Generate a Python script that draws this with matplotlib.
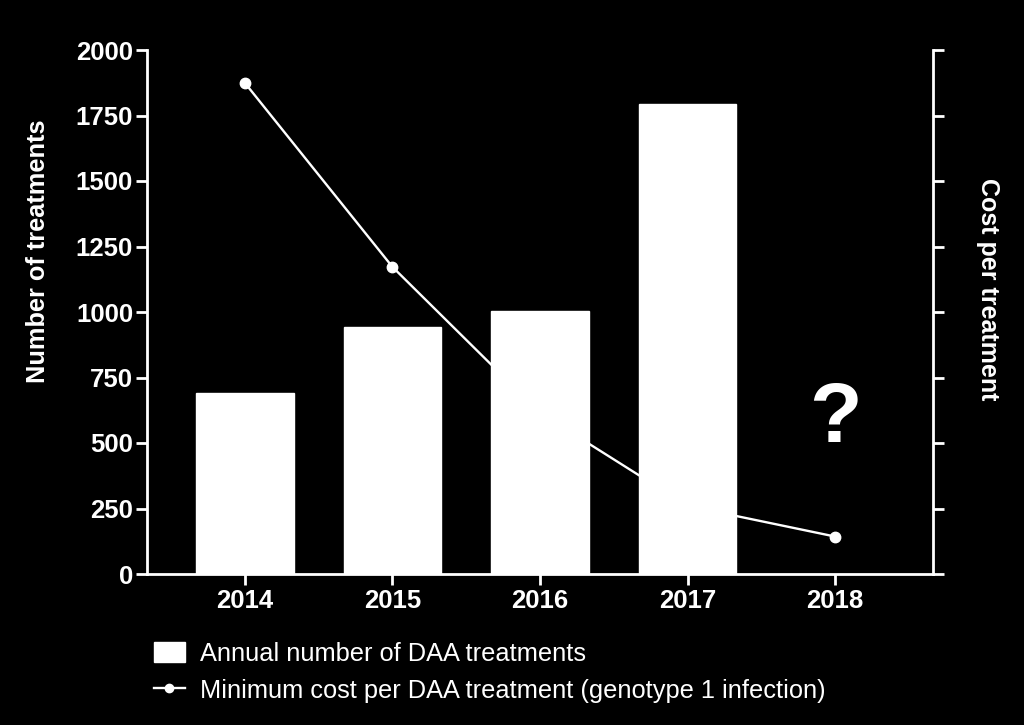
import matplotlib
matplotlib.use("Agg")
import matplotlib.pyplot as plt
import numpy as np

# values
years = ['2014', '2015', '2016', '2017', '2018']
treatments = [692, 943, 1004, 1794, np.nan]          # annual number of DAA treatments
cost = [1874, 1172, 615, 260, 143]                   # min. cost per treatment (right axis, unlabelled)
yticks = [0, 250, 500, 750, 1000, 1250, 1500, 1750, 2000]

plt.rcParams['font.family'] = ['Liberation Sans', 'DejaVu Sans']

fig = plt.figure(figsize=(10.24, 7.25), dpi=100, facecolor='black')
ax = fig.add_axes([147 / 1024, 1 - 574 / 725, (933 - 147) / 1024, (574 - 50) / 725])
ax2 = ax.twinx()

x = np.arange(len(years))

# bars on the left axis, drawn on top of the cost line
ax.bar(x, treatments, width=0.66, color='white', edgecolor='white', zorder=3)
ax2.plot(x, cost, color='white', lw=1.7, marker='o', ms=7.5, zorder=2)

ax.set_zorder(ax2.get_zorder() + 1)
ax.patch.set_visible(False)
ax2.set_facecolor('black')

for a in (ax, ax2):
    a.set_ylim(0, 2000)
    a.set_yticks(yticks)
    a.set_xlim(-0.664, 4.664)
    for s in a.spines.values():
        s.set_color('white')
        s.set_linewidth(2)
    a.spines['top'].set_visible(False)
    a.tick_params(colors='white', width=2, length=8)

ax.spines['right'].set_visible(False)
ax2.spines['left'].set_visible(False)
ax2.spines['bottom'].set_visible(False)
ax2.set_yticklabels([])

ax.set_xticks(x)
ax.set_xticklabels(years, fontsize=18.5, fontweight='bold', color='white')
ax.set_yticklabels([str(t) for t in yticks], fontsize=18.5, fontweight='bold', color='white')
ax.tick_params(axis='x', pad=3)
ax.tick_params(axis='y', pad=2)

ax.set_ylabel('Number of treatments', fontsize=18.3, fontweight='bold', color='white')
ax.yaxis.set_label_coords(-0.139, 0.616)
ax.yaxis.label.set_va('center')
ax2.set_ylabel('Cost per treatment', fontsize=18, fontweight='bold', color='white', rotation=-90)
ax2.yaxis.set_label_coords(1.070, 0.544)
ax2.yaxis.label.set_va('center')

ax.text(4, 503, '?', fontsize=62, fontweight='bold', color='white', ha='center', va='baseline')

h_bar = plt.Rectangle((0, 0), 1, 1, facecolor='white', edgecolor='white')
h_line, = ax2.plot([], [], color='white', lw=1.7, marker='o', ms=6)
leg = fig.legend([h_bar, h_line],
                 ['Annual number of DAA treatments',
                  'Minimum cost per DAA treatment (genotype 1 infection)'],
                 loc='upper left', bbox_to_anchor=(154 / 1024, 1 - 642 / 725),
                 frameon=False, fontsize=18.3, handlelength=1.2, handleheight=0.85,
                 handletextpad=0.6, labelspacing=0.5, borderpad=0, borderaxespad=0)
for t in leg.get_texts():
    t.set_color('white')

fig.savefig('out.png', dpi=100, facecolor='black')
